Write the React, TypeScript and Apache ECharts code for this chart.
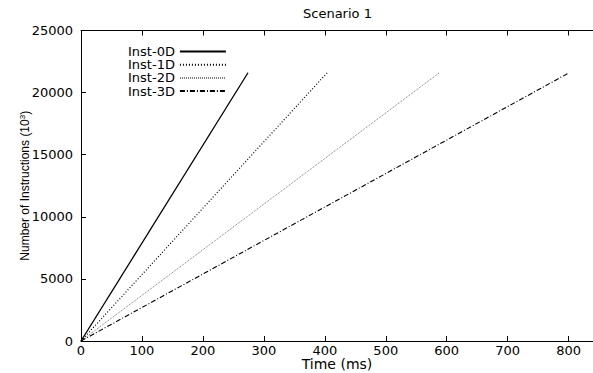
import React, { useEffect, useRef } from "react";
import * as echarts from "echarts";

const seriesNames = ["Inst-0D", "Inst-1D", "Inst-2D", "Inst-3D"];
const time0D = [0, 274];
const inst0D = [0, 21600];
const time1D = [0, 404];
const inst1D = [0, 21600];
const time2D = [0, 588];
const inst2D = [0, 21600];
const time3D = [0, 801];
const inst3D = [0, 21600];

const FONT = "'DejaVu Sans', Verdana, sans-serif";
const NFONT = "'Liberation Sans', Arial, Helvetica, sans-serif";

export default function App() {
  const ref = useRef<HTMLDivElement>(null);
  useEffect(() => {
    if (!ref.current) return;
    const chart = echarts.init(ref.current, undefined, { renderer: "svg" });
    const toPairs = (xs: number[], ys: number[]) => xs.map((x, i) => [x, ys[i]]);
    const styles: any[] = [
      { color: "#000", width: 1.3, type: "solid" },
      { color: "#000", width: 1.2, type: [1, 2] },
      { color: "#777", width: 1, type: [1, 1] },
      { color: "#000", width: 1.1, type: [5, 2, 1, 2] },
    ];
    const datas = [
      toPairs(time0D, inst0D),
      toPairs(time1D, inst1D),
      toPairs(time2D, inst2D),
      toPairs(time3D, inst3D),
    ];
    const axisCommon = {
      axisLine: { show: true, lineStyle: { color: "#000", width: 1 } },
      axisTick: { show: true, inside: true, length: 5, lineStyle: { color: "#000" } },
      splitLine: { show: false },
    };
    chart.setOption({
      animation: false,
      textStyle: { fontFamily: FONT },
      title: {
        text: "Scenario 1",
        left: 303,
        top: 7,
        padding: 0,
        textStyle: { fontSize: 13, fontWeight: "normal", color: "#000", fontFamily: FONT },
      },
      legend: {
        orient: "vertical",
        left: 128,
        top: 45,
        padding: 0,
        align: "right",
        itemWidth: 46,
        itemHeight: 10,
        itemGap: 0.2,
        itemStyle: { opacity: 0 },
        textStyle: { fontSize: 13, lineHeight: 13, color: "#000", fontFamily: FONT },
        data: seriesNames,
      },
      grid: { left: 81, right: 0, top: 30.5, bottom: 32, containLabel: false, outerBoundsMode: "none" },
      xAxis: [
        {
          type: "value",
          min: 0,
          max: 840,
          interval: 100,
          position: "bottom",
          name: "Time (ms)",
          nameLocation: "middle",
          nameGap: 15.5,
          nameMoveOverlap: false,
          nameTextStyle: { fontSize: 14, lineHeight: 14, color: "#000", fontFamily: FONT, verticalAlign: "top" },
          axisLabel: { color: "#000", fontSize: 13, lineHeight: 12, margin: 3.5, fontFamily: FONT, showMaxLabel: false },
          ...axisCommon,
        },
        {
          type: "value",
          min: 0,
          max: 840,
          interval: 100,
          position: "top",
          axisLabel: { show: false },
          ...axisCommon,
        },
      ],
      yAxis: {
        type: "value",
        min: 0,
        max: 25000,
        interval: 5000,
        name: "Number of Instructions (10{sup|3})",
        nameLocation: "middle",
        nameGap: 50,
        nameMoveOverlap: false,
        nameTextStyle: {
          fontSize: 12,
          color: "#000",
          fontFamily: NFONT,
          rich: { sup: { fontSize: 8, verticalAlign: "top", padding: [0, 0, 5, 0], color: "#000", fontFamily: NFONT } },
        },
        axisLabel: { color: "#000", fontSize: 13, margin: 8, fontFamily: FONT, formatter: (v: number) => String(v) },
        ...axisCommon,
      },
      series: seriesNames.map((name, i) => ({
        name,
        type: "line",
        xAxisIndex: 0,
        data: datas[i],
        symbol: "none",
        showSymbol: false,
        lineStyle: styles[i],
        itemStyle: { color: styles[i].color },
        emphasis: { disabled: true },
      })),
    });
    return () => chart.dispose();
  }, []);
  return <div ref={ref} style={{ width: 593, height: 373, position: "absolute", left: 0, top: 0 }} />;
}
